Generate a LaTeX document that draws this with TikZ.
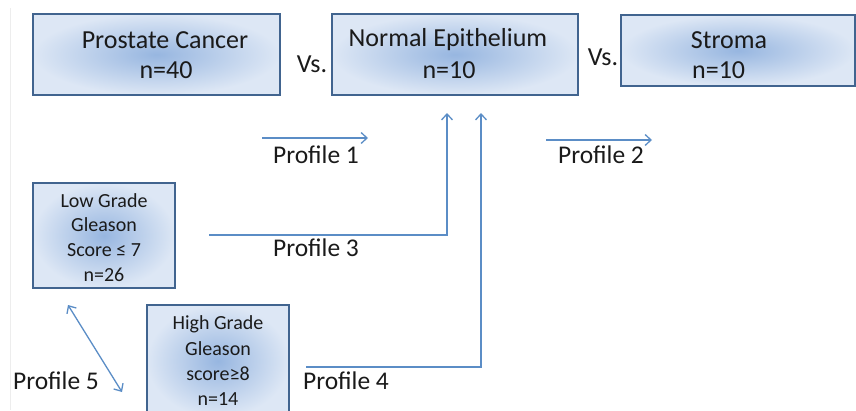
\documentclass[tikz,border=0pt]{standalone}
\usepackage{fontspec}
\setmainfont{Carlito}
\usetikzlibrary{arrows.meta}
\definecolor{boxedge}{HTML}{41648F}
\definecolor{boxin}{HTML}{97B6E0}
\definecolor{boxout}{HTML}{DDE7F5}
\definecolor{arrowc}{HTML}{5B8DC6}
\definecolor{txt}{HTML}{1A1A1A}
\tikzset{
  x=1pt, y=-1pt,
  box/.style={draw=boxedge, line width=2pt, shading=radial, inner color=boxin, outer color=boxout, inner sep=0pt},
  bigtxt/.style={font=\fontsize{26}{30}\selectfont, text=txt, inner sep=0pt},
  smalltxt/.style={font=\fontsize{20}{24}\selectfont, text=txt, inner sep=0pt, align=center},
  proftxt/.style={font=\fontsize{25.5}{30}\selectfont, text=txt, inner sep=0pt},
  conn/.style={draw=arrowc, line width=1.3pt},
  tip/.style={-{Straight Barb[length=6pt,width=11pt,line width=1.3pt]}},
}
\begin{document}
\begin{tikzpicture}
\useasboundingbox (0,0) rectangle (856,410);
\draw[black!7, line width=0.8pt] (10,8) -- (10,410);
% boxes
\node[box, minimum width=247pt, minimum height=81pt] (pc) at (156.5,54.5) {};
\node[box, minimum width=246pt, minimum height=81pt] (ne) at (455,54.5) {};
\node[box, minimum width=234pt, minimum height=71pt] (st) at (738,50.5) {};
\node[box, minimum width=142pt, minimum height=105pt] (lg) at (104,235.5) {};
\node[box, minimum width=142pt, minimum height=112pt] (hg) at (218,361) {};
% texts
\node[bigtxt] (pc1) at (165,40) {Prostate Cancer};
\node[bigtxt] (pc2) at (166,70) {n=40};
\node[bigtxt] (ne1) at (448,40) {Normal Epithelium};
\node[bigtxt] (ne2) at (449,70) {n=10};
\node[bigtxt] (st1) at (729,40) {Stroma};
\node[bigtxt, anchor=west] (st2) at (692,70) {n=10};
\node[bigtxt] (vs1) at (312,64) {Vs.};
\node[bigtxt] (vs2) at (603,57) {Vs.};
\node[smalltxt] (lg1) at (104,201) {Low Grade};
\node[smalltxt] (lg2) at (104,225) {Gleason};
\node[smalltxt] (lg3) at (104,250) {Score ≤ 7};
\node[smalltxt] (lg4) at (104,275) {n=26};
\node[smalltxt] (hg1) at (218,324) {High Grade};
\node[smalltxt] (hg2) at (218,349) {Gleason};
\node[smalltxt] (hg3) at (218,374) {score≥8};
\node[smalltxt] (hg4) at (218,399) {n=14};
% profile labels
\node[proftxt] (p1) at (316,155) {Profile 1};
\node[proftxt] (p2) at (601,155) {Profile 2};
\node[proftxt] (p3) at (316,248) {Profile 3};
\node[proftxt] (p4) at (346,381) {Profile 4};
\node[proftxt] (p5) at (56,381) {Profile 5};
% connector coordinates
\coordinate (a1s) at (262,138);
\coordinate (a1e) at (368,138);
\coordinate (a2s) at (546,140);
\coordinate (a2e) at (652,140);
\coordinate (a3s) at (209,235);
\coordinate (a3e) at (447,113);
\coordinate (a4s) at (306,367);
\coordinate (a4e) at (481,113);
\coordinate (a5s) at (68,305);
\coordinate (a5e) at (122,392);
\draw[conn, tip] (a1s) -- (a1e);
\draw[conn, tip] (a2s) -- (a2e);
\draw[conn, tip] (a3s) -| (a3e);
\draw[conn, tip] (a4s) -| (a4e);
\draw[conn, {Straight Barb[length=6pt,width=11pt,line width=1.3pt]}-{Straight Barb[length=6pt,width=11pt,line width=1.3pt]}] (a5s) -- (a5e);
\end{tikzpicture}
\end{document}
